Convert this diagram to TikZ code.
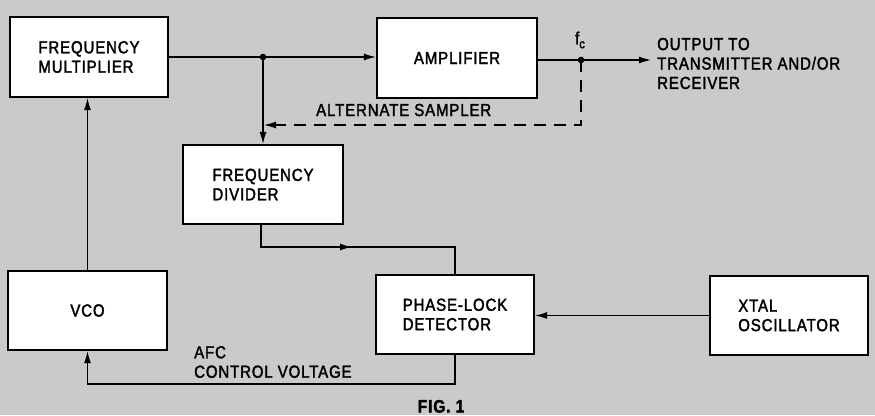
\documentclass[tikz,border=0pt]{standalone}
\usepackage{fontspec}
\setmainfont{Liberation Sans}[FakeBold=2, FakeStretch=0.86, LetterSpace=5]
\usetikzlibrary{arrows.meta}
\definecolor{bg}{RGB}{202,202,202}
\begin{document}
\begin{tikzpicture}[x=1bp,y=-1bp, font=\fontsize{17.5}{19.5}\selectfont,
  blk/.style={draw, line width=2.2bp, fill=white, inner sep=0pt, align=left},
  ln/.style={line width=1.2bp},
  arr/.style={ln, -{Latex[length=12bp,width=7bp]}},
  lbl/.style={inner sep=0pt, anchor=west, align=left}]
\fill[bg] (0,0) rectangle (875,415);
\useasboundingbox (0,0) rectangle (875,415);
% blocks
\node[blk, minimum width=158bp, minimum height=80bp] (fm) at (89,57) {FREQUENCY\\MULTIPLIER};
\node[blk, minimum width=160bp, minimum height=80bp] (amp) at (457,58) {AMPLIFIER};
\node[blk, minimum width=160bp, minimum height=79bp] (fd) at (263,184.5) {FREQUENCY\\DIVIDER};
\node[blk, minimum width=159bp, minimum height=79bp] (vco) at (87.5,310.5) {VCO};
\node[blk, minimum width=158bp, minimum height=79bp] (pld) at (455,314.5) {PHASE-LOCK\\DETECTOR};
\node[blk, minimum width=158bp, minimum height=79bp] (xtal) at (789,315.5) {XTAL\\OSCILLATOR};
% coordinates
\coordinate (j) at (263,57);
\coordinate (fc) at (581,60);
\coordinate (out) at (651,60);
\coordinate (dc) at (581,125);
\coordinate (de) at (264,125);
\coordinate (b1) at (261,247);
\coordinate (b2) at (352,247);
\coordinate (c1) at (455,384);
% connectors
\draw[arr] (fm.east |- j) -- (j) -- (amp.west |- j);
\fill (j) circle (3.3bp);
\draw[arr] (j) -- (fd.north);
\draw[arr] (amp.east |- fc) -- (fc) -- (out);
\fill (fc) circle (3.3bp);
\draw[arr, dash pattern=on 12bp off 8bp] (fc) -- (dc) -- (de);
\draw[ln] (fd.south -| b1) -- (b1) -| (pld.north);
\draw[arr] (b1) -- (b2);
\draw[arr] (pld.south) -- (c1) -| (vco.south);
\draw[arr] (vco.north) -- (vco.north |- fm.south);
\draw[arr] (xtal.west) -- (xtal.west -| pld.east);
% labels
\node[lbl] (alt) at (316,110) {ALTERNATE SAMPLER};
\node[lbl] (afc) at (194,362) {AFC\\CONTROL VOLTAGE};
\node[lbl] (outl) at (657,63.5) {OUTPUT TO\\TRANSMITTER AND/OR\\RECEIVER};
\node[inner sep=0pt] (fcl) at (580,40) {f\raisebox{-4bp}{\fontsize{13}{13}\selectfont c}};
\node[inner sep=0pt, anchor=base] (fig) at (441,412.5) {\fontsize{18}{18}\selectfont\bfseries FIG. 1};
\end{tikzpicture}
\end{document}
